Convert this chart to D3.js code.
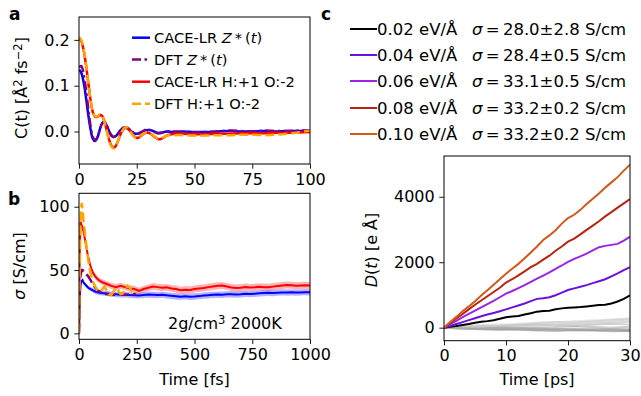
<!DOCTYPE html>
<html><head><meta charset="utf-8">
<script src="https://cdn.jsdelivr.net/npm/d3@7"></script>
<style>
html,body{margin:0;padding:0;background:#fff;}
svg{display:block;font-family:"DejaVu Sans",sans-serif;}
</style></head>
<body><svg id="c" width="641" height="396"></svg>
<script>
// ---------- Panel a: C(t) ----------
const tA = [0,1,2,3,4,5,6,7,8,9,10,11,12,13,14,15,16,17,18,19,20,21,22,23,24,25,26,27,28,29,30,31,32,33,34,35,36,37,38,39,40,45,50,55,60,65,70,75,80,85,90,95,100];
const cCaceZ = [0.135,0.128,0.108,0.075,0.037,0.005,-0.016,-0.021,-0.013,0.004,0.018,0.021,0.013,0.001,-0.009,-0.012,-0.010,-0.004,0.003,0.007,0.008,0.007,0.003,-0.001,-0.004,-0.005,-0.004,-0.002,0.000,0.002,0.003,0.003,0.001,-0.001,-0.003,-0.003,-0.002,-0.001,0.000,0.000,-0.001,0.000,-0.001,-0.001,0.000,0.001,0.000,0.000,0.001,0.000,0.001,0.001,0.002];
const cDftZ = [0.140,0.143,0.125,0.092,0.050,0.012,-0.012,-0.019,-0.012,0.004,0.017,0.020,0.013,0.002,-0.008,-0.012,-0.010,-0.004,0.003,0.008,0.009,0.008,0.004,-0.001,-0.005,-0.006,-0.004,-0.001,0.002,0.004,0.004,0.003,0.001,-0.002,-0.004,-0.004,-0.003,-0.002,-0.001,0.000,0.000,-0.001,-0.002,-0.001,0.000,0.002,0.001,0.000,0.002,0.001,0.001,0.002,0.002];
const cCaceHO = [0.204,0.197,0.178,0.146,0.107,0.069,0.042,0.032,0.032,0.036,0.034,0.022,0.003,-0.017,-0.031,-0.036,-0.031,-0.019,-0.006,0.003,0.008,0.007,0.002,-0.005,-0.011,-0.014,-0.013,-0.009,-0.005,-0.003,-0.003,-0.005,-0.009,-0.013,-0.016,-0.017,-0.015,-0.012,-0.009,-0.007,-0.006,-0.005,-0.006,-0.006,-0.005,-0.005,-0.004,-0.004,-0.004,-0.003,-0.003,-0.002,-0.001];
const cDftHO = [0.206,0.199,0.180,0.148,0.108,0.070,0.043,0.033,0.033,0.037,0.034,0.021,0.001,-0.019,-0.033,-0.037,-0.032,-0.019,-0.005,0.004,0.009,0.008,0.002,-0.006,-0.012,-0.015,-0.013,-0.008,-0.004,-0.002,-0.002,-0.004,-0.008,-0.012,-0.015,-0.016,-0.014,-0.011,-0.009,-0.008,-0.008,-0.008,-0.009,-0.009,-0.008,-0.008,-0.007,-0.007,-0.008,-0.007,-0.005,-0.002,0.002];
const aXTicks = [0,25,50,75,100];
const aYTicks = [0.0,0.1,0.2];
const aLegend = ["CACE-LR Z*(t)","DFT Z*(t)","CACE-LR H:+1 O:-2","DFT H:+1 O:-2"];

// ---------- Panel b: sigma running integral ----------
const tB = [0,3,6,10,15,20,30,40,50,60,70,80,90,100,120,140,160,180,200,220,240,260,280,300,320,340,360,380,400,420,440,460,480,500,520,540,560,580,600,620,640,660,680,700,720,740,760,780,800,820,840,860,880,900,920,940,960,980,1000];
const sCaceZ = [0,25,38,41,42,40,38,36,35,34,33,32.5,32,31.8,31.5,31,30.8,30.5,30.6,30.2,30.0,29.8,30.3,30.6,30.4,30.2,30.5,30.0,29.6,29.3,29.0,29.2,28.9,29.1,29.4,29.8,30.1,30.4,30.6,30.5,30.8,30.9,30.7,30.9,31.2,31.0,31.3,31.6,31.8,32.0,31.8,32.1,32.3,32.2,32.4,32.2,32.3,32.5,32.4];
const eCaceZ = [0,0.5,0.8,1,1.2,1.3,1.5,1.6,1.7,1.8,1.9,2,2,2,2.1,2.1,2.2,2.2,2.2,2.3,2.3,2.3,2.3,2.4,2.4,2.4,2.4,2.4,2.5,2.5,2.5,2.5,2.5,2.5,2.5,2.5,2.5,2.5,2.5,2.5,2.5,2.5,2.5,2.5,2.5,2.5,2.5,2.5,2.5,2.5,2.5,2.5,2.5,2.5,2.5,2.5,2.5,2.5,2.5];
const sCaceHO = [0,60,88,86,84,80,70,60,53,48,45,43,41.5,40.5,39,37.5,36.5,37.5,36.5,35.5,35,33.5,35,36,37,36.5,36,36.3,35.5,35,34,34.5,34.2,35,35.5,35.8,36.5,37,37.5,37.8,37,36.2,35.8,36,36.5,36.2,36.4,36.8,36.5,36.4,36.9,37.4,37.8,38.2,38,37.6,37.8,38,37.8];
const eCaceHO = [0,0.6,1,1.2,1.4,1.5,1.7,1.8,1.9,2,2.1,2.2,2.2,2.3,2.3,2.4,2.4,2.5,2.5,2.5,2.6,2.6,2.6,2.6,2.7,2.7,2.7,2.7,2.7,2.8,2.8,2.8,2.8,2.8,2.8,2.8,2.8,2.8,2.8,2.8,2.8,2.8,2.8,2.8,2.8,2.8,2.8,2.8,2.8,2.8,2.8,2.8,2.8,2.8,2.8,2.8,2.8,2.8,2.8];
const tBdft = [0,3,6,10,12,15,20,30,40,50,60,70,80,90,100,110,120,130,140,150,160,170,180,190,200,210,220,230,240,250];
const sDftZ = [0,30,45,49,50,50,49,47,45,42,39,36,34,33,32,31.5,31,30.8,30.5,30.5,30.6,31,31,30.8,30.5,30.5,30.6,30.8,31,31];
const sDftHO = [0,50,85,100,103,98,88,72,58,47,41,37,34,33,34.5,37,34,31,30.5,33,36,34,31,31.5,35,37.5,36,33,31.5,32];
const bXTicks = [0,250,500,750,1000];
const bYTicks = [0,50,100];

// ---------- Panel c: D(t) ----------
const tC = [0,1,2,3,4,5,6,7,8,9,10,11,12,13,14,15,16,17,18,19,20,21,22,23,24,25,26,27,28,29,30];
const fields = ["0.02 eV/Å","0.04 eV/Å","0.06 eV/Å","0.08 eV/Å","0.10 eV/Å"];
const sigmaLabels = ["28.0±2.8","28.4±0.5","33.1±0.5","33.2±0.2","33.2±0.2"];
const d002 = [0,25,50,80,110,150,180,200,230,270,320,340,360,400,440,490,510,520,560,590,610,620,630,650,670,690,700,740,800,880,990];
const d004 = [0,50,110,170,230,290,350,400,450,500,560,620,680,740,810,880,900,930,990,1070,1150,1200,1250,1300,1360,1420,1480,1570,1660,1760,1850];
const d006 = [0,105,210,320,420,520,620,720,820,930,1040,1120,1210,1300,1400,1500,1590,1690,1800,1900,2010,2100,2180,2260,2360,2460,2500,2530,2560,2660,2780];
const d008 = [0,140,280,420,560,700,830,960,1090,1220,1380,1480,1600,1720,1850,1950,2080,2200,2350,2480,2630,2720,2850,2990,3120,3250,3400,3530,3670,3800,3930];
const d010 = [0,170,330,500,650,810,980,1140,1310,1480,1650,1800,1950,2120,2300,2480,2680,2820,2980,3180,3350,3450,3600,3780,3940,4100,4280,4440,4600,4800,4980];
const tGray = [0,3,6,9,12,15,18,21,24,27,30];
const gray1 = [0,-20,-40,-30,-50,-60,-40,-70,-60,-50,-80];
const gray2 = [0,30,20,50,80,60,100,130,120,150,180];
const gray3 = [0,-10,10,-20,-10,-40,-60,-50,-80,-90,-100];
const gray4 = [0,40,80,100,90,130,160,200,220,250,290];
const gray5 = [0,20,50,40,70,100,80,60,90,120,100];
const gray6 = [0,-30,-50,-70,-60,-90,-100,-80,-90,-110,-100];
const gray7 = [0,10,40,60,110,150,170,160,190,230,250];
const gray8 = [0,-20,0,20,10,-10,20,40,20,0,30];
const gray9 = [0,15,30,70,60,50,90,120,150,180,200];
const gray10 = [0,-10,-30,-10,-30,-20,-50,-40,-30,-50,-40];
const cXTicks = [0,10,20,30];
const cYTicks = [0,2000,4000];

// ---------- drawing ----------
const svg = d3.select("#c");
const TK = 4.67, PAD = 4.67;
const colBlue="#0000ff", colPurple="#800080", colRed="#ff0000", colOrange="#ffa500";
const cCols = ["#000000","#6a12dc","#9b24e6","#b8240e","#d4581a"];

function frame(g, x, y){
  const [x0,x1]=x.range(), [y0,y1]=y.range();
  g.append("rect").attr("x",x0).attr("y",y1).attr("width",x1-x0).attr("height",y0-y1)
   .attr("fill","none").attr("stroke","#000").attr("stroke-width",1);
}
function axes(g, x, y, xt, yt, xfmt, yfmt){
  const xa = g.append("g").attr("transform",`translate(0,${y.range()[0]})`)
    .call(d3.axisBottom(x).tickValues(xt).tickFormat(xfmt).tickSize(TK).tickPadding(PAD).tickSizeOuter(0));
  const ya = g.append("g").attr("transform",`translate(${x.range()[0]},0)`)
    .call(d3.axisLeft(y).tickValues(yt).tickFormat(yfmt).tickSize(TK).tickPadding(PAD).tickSizeOuter(0));
  [xa,ya].forEach(a=>{
    a.select(".domain").remove();
    a.selectAll("text").attr("font-size",16).attr("fill","#000").attr("font-family","DejaVu Sans");
    a.selectAll("line").attr("stroke","#000").attr("stroke-width",0.9);
  });
}
function clip(id, x, y){
  const [x0,x1]=x.range(), [y0,y1]=y.range();
  svg.append("clipPath").attr("id",id).append("rect").attr("x",x0).attr("y",y1).attr("width",x1-x0).attr("height",y0-y1);
}
const SUP = 5.5;
function sup(t, s){ t.append("tspan").attr("font-size",11.5).attr("dy",-SUP).text(s); }
function after(t, s){ t.append("tspan").attr("dy",SUP).text(s); }

// Panel a
const xA = d3.scaleLinear([0,100],[79,310]);
const yA = d3.scaleLinear([-0.071,0.25],[164,17]);
clip("clipA",xA,yA);
const gA = svg.append("g");
const lineA = d3.line().curve(d3.curveCatmullRom).x((d,i)=>xA(tA[i])).y(d=>yA(d));
const pA = gA.append("g").attr("clip-path","url(#clipA)");
const aSeries = [
  {v:cCaceZ,c:colBlue,dash:null},
  {v:cDftZ,c:colPurple,dash:"9,3.5,2.5,3.5"},
  {v:cCaceHO,c:colRed,dash:null},
  {v:cDftHO,c:colOrange,dash:"9,4"}
];
aSeries.forEach(s=>{
  pA.append("path").attr("d",lineA(s.v)).attr("fill","none").attr("stroke",s.c)
    .attr("stroke-width",2.5).attr("stroke-dasharray",s.dash);
});
frame(gA,xA,yA);
axes(gA,xA,yA,aXTicks,aYTicks,d3.format("d"),d3.format(".1f"));
// legend a
const legA = gA.append("g");
const legAy = [37.7,59.5,81.7,103.7];
aSeries.forEach((s,i)=>{
  legA.append("line").attr("x1",132).attr("x2",150).attr("y1",legAy[i]).attr("y2",legAy[i])
    .attr("stroke",s.c).attr("stroke-width",2.5).attr("stroke-dasharray",s.dash);
  const t = legA.append("text").attr("x",154).attr("y",legAy[i]+5.3).attr("font-size",14.67).attr("fill","#000");
  const lab = aLegend[i];
  if(lab.includes("Z*(t)")){
    t.append("tspan").text(lab.replace("Z*(t)",""));
    t.append("tspan").attr("font-style","italic").text("Z");
    t.append("tspan").text("\u2009*\u2009(");
    t.append("tspan").attr("font-style","italic").text("t");
    t.append("tspan").text(")");
  } else t.text(lab);
});
// y label a
const ylA = gA.append("text").attr("transform","translate(27,88) rotate(-90)").attr("text-anchor","middle").attr("font-size",16);
ylA.append("tspan").text("C(t) [Å");
sup(ylA,"2");
after(ylA," fs");
sup(ylA,"−2");
after(ylA,"]");
svg.append("text").attr("x",9).attr("y",20).attr("font-size",17).attr("font-weight","bold").text("a");

// Panel b
const xB = d3.scaleLinear([0,1000],[79,310]);
const yB = d3.scaleLinear([-4.7,110.6],[339.3,193.3]);
clip("clipB",xB,yB);
const gB = svg.append("g");
const pB = gB.append("g").attr("clip-path","url(#clipB)");
const areaB = (v,e)=>d3.area().x((d,i)=>xB(tB[i])).y0((d,i)=>yB(v[i]-e[i])).y1((d,i)=>yB(v[i]+e[i]))(v);
const lineB = (tt,v)=>d3.line().x((d,i)=>xB(tt[i])).y(d=>yB(d))(v);
pB.append("path").attr("d",areaB(sCaceZ,eCaceZ)).attr("fill",colBlue).attr("fill-opacity",0.3);
pB.append("path").attr("d",lineB(tB,sCaceZ)).attr("fill","none").attr("stroke",colBlue).attr("stroke-width",2);
pB.append("path").attr("d",lineB(tBdft,sDftZ)).attr("fill","none").attr("stroke",colPurple).attr("stroke-width",2.5).attr("stroke-dasharray","10,4");
pB.append("path").attr("d",areaB(sCaceHO,eCaceHO)).attr("fill",colRed).attr("fill-opacity",0.3);
pB.append("path").attr("d",lineB(tB,sCaceHO)).attr("fill","none").attr("stroke",colRed).attr("stroke-width",2);
pB.append("path").attr("d",lineB(tBdft,sDftHO)).attr("fill","none").attr("stroke",colOrange).attr("stroke-width",2.5).attr("stroke-dasharray","10,4");
frame(gB,xB,yB);
axes(gB,xB,yB,bXTicks,bYTicks,d3.format("d"),d3.format("d"));
const yl = gB.append("text").attr("transform","translate(25,266) rotate(-90)").attr("text-anchor","middle").attr("font-size",16);
yl.append("tspan").attr("font-style","italic").text("σ");
yl.append("tspan").text(" [S/cm]");
gB.append("text").attr("x",194.5).attr("y",385).attr("text-anchor","middle").attr("font-size",16).text("Time [fs]");
const dens = gB.append("text").attr("x",168).attr("y",329).attr("font-size",16);
dens.append("tspan").text("2g/cm");
sup(dens,"3");
after(dens," 2000K");
svg.append("text").attr("x",8).attr("y",205).attr("font-size",17).attr("font-weight","bold").text("b");

// Panel c
const xC = d3.scaleLinear([0,30],[444,630]);
const yC = d3.scaleLinear([-398,5246],[340.7,156]);
clip("clipC",xC,yC);
const gC = svg.append("g");
const pC = gC.append("g").attr("clip-path","url(#clipC)");
const grays = [gray1,gray2,gray3,gray4,gray5,gray6,gray7,gray8,gray9,gray10];
const grayCols = ["#888","#c8c8c8","#999","#d0d0d0","#bbb","#999","#c8c8c8","#aaa","#d0d0d0","#aaa"];
grays.forEach((g,i)=>{
  pC.append("path").attr("d",d3.line().x((d,j)=>xC(tGray[j])).y(d=>yC(d))(g))
    .attr("fill","none").attr("stroke",grayCols[i]).attr("stroke-opacity",0.6).attr("stroke-width",2);
});
const cSeries = [d002,d004,d006,d008,d010];
cSeries.forEach((v,i)=>{
  pC.append("path").attr("d",d3.line().x((d,j)=>xC(tC[j])).y(d=>yC(d))(v))
    .attr("fill","none").attr("stroke",cCols[i]).attr("stroke-width",2);
});
frame(gC,xC,yC);
axes(gC,xC,yC,cXTicks,cYTicks,d3.format("d"),d3.format("d"));
const dl = gC.append("text").attr("transform","translate(377,250) rotate(-90)").attr("text-anchor","middle").attr("font-size",16);
dl.append("tspan").attr("font-style","italic").text("D");
dl.append("tspan").text("(");
dl.append("tspan").attr("font-style","italic").text("t");
dl.append("tspan").text(") [e Å]");
gC.append("text").attr("x",537).attr("y",385).attr("text-anchor","middle").attr("font-size",16).text("Time [ps]");
// legend c
const legCy = [29,55,81,108,134];
fields.forEach((f,i)=>{
  gC.append("line").attr("x1",350).attr("x2",377).attr("y1",legCy[i]).attr("y2",legCy[i]).attr("stroke",cCols[i]).attr("stroke-width",2);
  gC.append("text").attr("x",377).attr("y",legCy[i]+6).attr("font-size",16.5).text(f);
  const t = gC.append("text").attr("x",472).attr("y",legCy[i]+6).attr("font-size",16.5);
  t.append("tspan").attr("font-style","italic").text("σ");
  t.append("tspan").text("\u2009=\u2009"+sigmaLabels[i]+" S/cm");
});
svg.append("text").attr("x",321).attr("y",20).attr("font-size",17).attr("font-weight","bold").text("c");
</script></body></html>
